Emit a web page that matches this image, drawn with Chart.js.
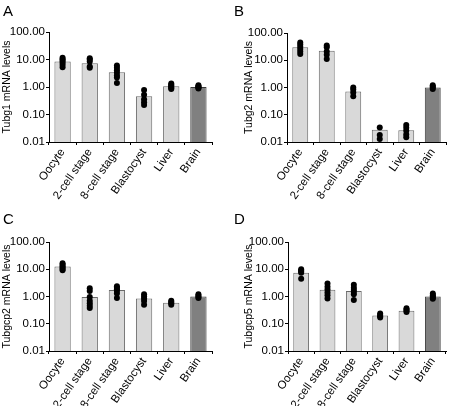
<!DOCTYPE html>
<html>
<head>
<meta charset="utf-8">
<script src="https://cdn.jsdelivr.net/npm/chart.js@4"></script>
<style>
  html, body { margin: 0; padding: 0; background: #fff; }
  #wrap { position: relative; width: 457px; height: 406px; overflow: hidden; }
  .panel { position: absolute; }
  .tag { position: absolute; font-family: 'Liberation Sans', Arial, sans-serif; font-size: 15px; color: #000; }
</style>
</head>
<body>
<div id="wrap">
  <div class="panel" style="left:0;top:0;width:228px;height:200px"><canvas id="chart-a"></canvas></div>
  <div class="panel" style="left:228px;top:0;width:229px;height:200px"><canvas id="chart-b"></canvas></div>
  <div class="panel" style="left:0;top:200px;width:228px;height:206px"><canvas id="chart-c"></canvas></div>
  <div class="panel" style="left:228px;top:200px;width:229px;height:206px"><canvas id="chart-d"></canvas></div>
  <div class="tag" style="left:3px;top:2px">A</div>
  <div class="tag" style="left:234px;top:2px">B</div>
  <div class="tag" style="left:3px;top:210px">C</div>
  <div class="tag" style="left:234px;top:210px">D</div>
</div>
<script>
// categories and axis ticks
const categories = ['Oocyte', '2-cell stage', '8-cell stage', 'Blastocyst', 'Liver', 'Brain'];
const yTicks = [0.01, 0.1, 1, 10, 100];

// bar heights (mean relative levels)
const tubg1Means = [8.5, 7.3, 3.45, 0.46, 1.07, 1.0];
const tubg2Means = [30, 22.5, 0.72, 0.028, 0.027, 1.0];
const tubgcp2Means = [12.5, 0.95, 1.75, 0.85, 0.59, 1.0];
const tubgcp5Means = [7.4, 1.78, 1.6, 0.2, 0.3, 1.0];

// individual samples per category
const tubg1Points = [
    [11.5, 10.2, 9, 7.8, 6.5, 5.2],
    [11.2, 10, 8.5, 5.6, 5],
    [6.0, 5.0, 4.1, 3.3, 2.6, 2.2, 1.4],
    [0.78, 0.52, 0.36, 0.28, 0.22],
    [1.35, 1.22, 1.1, 1.0, 0.92, 0.85],
    [1.15, 1.07, 1.0, 0.94, 0.88],
];
const tubg2Points = [
    [45, 38, 31, 26, 21, 17],
    [35, 30, 21, 16, 11],
    [1.0, 0.85, 0.65, 0.48],
    [0.034, 0.018, 0.013],
    [0.042, 0.033, 0.026, 0.019, 0.015],
    [1.2, 1.08, 0.98, 0.88],
];
const tubgcp2Points = [
    [16.5, 14.5, 12.8, 11.3, 10.2, 9.2],
    [2.0, 1.6, 0.95, 0.7, 0.57, 0.46, 0.38],
    [2.4, 2.1, 1.85, 1.6, 1.3, 0.88],
    [1.2, 1.0, 0.85, 0.68, 0.5],
    [0.7, 0.63, 0.56, 0.5],
    [1.2, 1.06, 0.96, 0.88],
];
const tubgcp5Points = [
    [10, 9, 8.2, 7.5, 4.5],
    [3.0, 2.3, 1.8, 1.4, 1.1, 0.85],
    [2.7, 2.1, 1.75, 1.45, 1.2, 0.75],
    [0.24, 0.21, 0.19, 0.17],
    [0.37, 0.33, 0.3, 0.27],
    [1.3, 1.12, 1.0, 0.9, 0.82],
];

Chart.defaults.font.family = "'Liberation Sans', Arial, sans-serif";
Chart.defaults.font.size = 11.5;
Chart.defaults.color = '#000';

function makePanel(id, title, means, points, box) {
    const fills = categories.map((c, i) => i === categories.length - 1 ? '#808080' : '#d9d9d9');
    const borders = categories.map((c, i) => i === categories.length - 1 ? '#3a3a3a' : '#6a6a6a');
    const samples = points.flatMap((vals, i) => vals.map(v => ({ x: categories[i], y: v })));

    return new Chart(document.getElementById(id), {
        type: 'bar',
        data: {
            labels: categories,
            datasets: [{
                type: 'bar',
                data: means,
                backgroundColor: fills,
                borderColor: borders,
                borderWidth: 1,
                barPercentage: 0.6,
                categoryPercentage: 1,
                order: 2,
            }, {
                type: 'line',
                data: samples,
                showLine: false,
                pointStyle: 'circle',
                pointRadius: 3,
                pointBackgroundColor: '#000',
                pointBorderColor: '#000',
                pointBorderWidth: 0,
                order: 1,
            }],
        },
        options: {
            responsive: true,
            maintainAspectRatio: false,
            animation: false,
            layout: { padding: { top: box.top, right: box.right, left: 0, bottom: 0 } },
            plugins: { legend: { display: false }, tooltip: { enabled: false } },
            scales: {
                x: {
                    type: 'category',
                    offset: true,
                    grid: { offset: true, drawOnChartArea: false, drawTicks: true, tickLength: 3, color: '#000' },
                    border: { color: '#000', width: 1 },
                    ticks: { autoSkip: false, minRotation: 55, maxRotation: 55, padding: 1, color: '#000' },
                    afterFit: s => { s.height = box.xh; },
                },
                y: {
                    type: 'logarithmic',
                    min: 0.01,
                    max: 100,
                    grid: { drawOnChartArea: false, drawTicks: true, tickLength: 3, color: '#000' },
                    border: { color: '#000', width: 1 },
                    ticks: { padding: 1, color: '#000', callback: v => Number(v).toFixed(2) },
                    afterBuildTicks: s => { s.ticks = yTicks.map(v => ({ value: v })); },
                    title: { display: true, text: title, padding: { top: box.tp }, font: { size: 10.5 } },
                    afterFit: s => { s.width = box.yw; },
                },
            },
        },
    });
}

makePanel('chart-a', 'Tubg1 mRNA levels', tubg1Means, tubg1Points, { top: 32, right: 16, xh: 58, yw: 49, tp: 1 });
makePanel('chart-b', 'Tubg2 mRNA levels', tubg2Means, tubg2Points, { top: 33, right: 11, xh: 58, yw: 59, tp: 15 });
makePanel('chart-c', 'Tubgcp2 mRNA levels', tubgcp2Means, tubgcp2Points, { top: 42, right: 16, xh: 55, yw: 49, tp: 1 });
makePanel('chart-d', 'Tubgcp5 mRNA levels', tubgcp5Means, tubgcp5Points, { top: 42, right: 11, xh: 55, yw: 60, tp: 15 });
</script>
</body>
</html>
